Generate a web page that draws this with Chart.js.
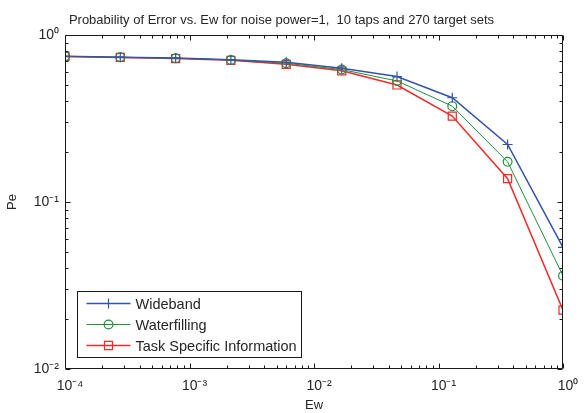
<!DOCTYPE html>
<html><head><meta charset="utf-8">
<script src="https://cdn.jsdelivr.net/npm/chart.js@4/dist/chart.umd.min.js"></script>
<style>html,body{margin:0;padding:0;background:#fff}#wrap{width:584px;height:413px;position:relative}</style>
</head><body><div id="wrap"><canvas id="c"></canvas></div>
<script>
const ew = [1e-4, 2.78e-4, 7.74e-4, 2.15e-3, 5.99e-3, 1.67e-2, 4.64e-2, 1.29e-1, 3.59e-1, 1];
const wideband     = [0.745, 0.737, 0.727, 0.712, 0.686, 0.632, 0.564, 0.421, 0.221, 0.0535];
const waterfilling = [0.745, 0.736, 0.726, 0.709, 0.677, 0.621, 0.531, 0.375, 0.174, 0.0362];
const taskSpecific = [0.744, 0.734, 0.723, 0.705, 0.667, 0.610, 0.502, 0.327, 0.138, 0.0225];
const seriesNames = ['Wideband', 'Waterfilling', 'Task Specific Information'];
const xDecades = [1e-4, 1e-3, 1e-2, 1e-1, 1];
const xDecadeLabels = ['10\u207B\u2074', '10\u207B\u00B3', '10\u207B\u00B2', '10\u207B\u00B9', '10\u2070'];
const yDecades = [1e-2, 1e-1, 1];
const yDecadeLabels = ['10\u207B\u00B2', '10\u207B\u00B9', '10\u2070'];
const titleText = 'Probability of Error vs. Ew for noise power=1,  10 taps and 270 target sets';

const FONT = '"Liberation Sans", Arial, sans-serif';
const TXT = '#262626';
const colors = ['#3554a8', '#1f8f3f', '#ee2a2a'];
const styles = ['cross', 'circle', 'rect'];
const radii = [5, 4.4, 5.7];
const widths = [1.5, 1, 1.5];

function logTicks(decs){
  const out = [];
  for (let i = 0; i < decs.length; i++) {
    const d = decs[i];
    out.push(d);
    if (i < decs.length - 1) for (let k = 2; k <= 9; k++) out.push(+(k * d).toPrecision(3));
  }
  return out;
}
function isDecade(v, decs){ return decs.some(d => Math.abs(v / d - 1) < 1e-6); }
function decadeLabel(v, decs, labels){
  const i = decs.findIndex(d => Math.abs(v / d - 1) < 1e-6);
  return i >= 0 ? labels[i] : '';
}

const allSeries = [wideband, waterfilling, taskSpecific];
const datasets = allSeries.map((s, i) => ({
  label: seriesNames[i],
  data: ew.map((x, j) => ({x: x, y: s[j]})),
  showLine: true,
  borderColor: colors[i],
  backgroundColor: 'rgba(0,0,0,0)',
  borderWidth: widths[i],
  pointStyle: styles[i],
  pointRadius: radii[i],
  pointHoverRadius: radii[i],
  pointBorderColor: colors[i],
  pointBorderWidth: 1.2,
  pointBackgroundColor: 'rgba(0,0,0,0)',
  tension: 0
}));

const framePlugin = {
  id: 'frame',
  afterDatasetsDraw(chart){
    const {ctx, chartArea: a, scales: {x, y}} = chart;
    ctx.save();
    ctx.strokeStyle = '#1a1a1a';
    ctx.lineWidth = 1;
    const L = Math.round(a.left) + 0.5, R = Math.round(a.right) - 0.5;
    const T = Math.round(a.top) + 0.5, B = Math.round(a.bottom) - 0.5;
    ctx.beginPath();
    ctx.rect(L, T, R - L, B - T);
    x.ticks.forEach(t => {
      const px = Math.round(x.getPixelForValue(t.value)) + 0.5;
      const len = isDecade(t.value, xDecades) ? 5 : 3;
      ctx.moveTo(px, B); ctx.lineTo(px, B - len);
      ctx.moveTo(px, T); ctx.lineTo(px, T + len);
    });
    y.ticks.forEach(t => {
      const py = Math.round(y.getPixelForValue(t.value)) + 0.5;
      const len = isDecade(t.value, yDecades) ? 5 : 3;
      ctx.moveTo(L, py); ctx.lineTo(L + len, py);
      ctx.moveTo(R, py); ctx.lineTo(R - len, py);
    });
    ctx.stroke();
    ctx.restore();
  }
};

function drawMarker(ctx, style, cx, cy, r){
  ctx.beginPath();
  if (style === 'cross') {
    ctx.moveTo(cx - r, cy); ctx.lineTo(cx + r, cy);
    ctx.moveTo(cx, cy - r); ctx.lineTo(cx, cy + r);
  } else if (style === 'circle') {
    ctx.arc(cx, cy, r, 0, Math.PI * 2);
  } else {
    const s = r * Math.SQRT1_2;
    ctx.rect(cx - s, cy - s, 2 * s, 2 * s);
  }
  ctx.stroke();
}

const legendPlugin = {
  id: 'matlabLegend',
  afterDraw(chart){
    const ctx = chart.ctx;
    const bx = 77.5, by = 291.5, bw = 224, bh = 66;
    ctx.save();
    ctx.fillStyle = '#fff';
    ctx.fillRect(bx, by, bw, bh);
    ctx.strokeStyle = '#1a1a1a';
    ctx.lineWidth = 1;
    ctx.strokeRect(bx, by, bw, bh);
    ctx.font = '14.5px ' + FONT;
    ctx.textBaseline = 'middle';
    ctx.fillStyle = TXT;
    chart.data.datasets.forEach((ds, i) => {
      const cy = 303.5 + i * 21;
      ctx.strokeStyle = ds.borderColor;
      ctx.lineWidth = ds.borderWidth;
      ctx.beginPath();
      ctx.moveTo(bx + 9, cy); ctx.lineTo(bx + 53, cy);
      ctx.stroke();
      ctx.lineWidth = 1.2;
      drawMarker(ctx, ds.pointStyle, bx + 31, cy, ds.pointRadius);
      ctx.fillText(ds.label, bx + 58, cy + 1);
    });
    ctx.restore();
  }
};

new Chart(document.getElementById('c'), {
  type: 'scatter',
  data: {datasets: datasets},
  options: {
    responsive: true,
    maintainAspectRatio: false,
    animation: false,
    events: [],
    layout: {padding: {left: 0, right: 21, top: 0, bottom: 0}},
    plugins: {
      legend: {display: false},
      tooltip: {enabled: false},
      title: {
        display: true,
        text: titleText,
        color: TXT,
        font: {family: FONT, size: 13, weight: 'normal'},
        padding: {top: 12.5, bottom: 6.9}
      }
    },
    scales: {
      x: {
        type: 'logarithmic',
        min: 1e-4, max: 1,
        afterBuildTicks: s => { s.ticks = logTicks(xDecades).map(v => ({value: v})); },
        afterFit: s => { s.height = 44; },
        grid: {display: false, drawTicks: false},
        border: {display: false},
        ticks: {
          autoSkip: false, maxRotation: 0, padding: 9, labelOffset: 5,
          color: TXT, font: {family: FONT, size: 14},
          callback: v => decadeLabel(v, xDecades, xDecadeLabels)
        },
        title: {display: true, text: 'Ew', color: TXT, font: {family: FONT, size: 13}, padding: {top: 0, bottom: 0}}
      },
      y: {
        type: 'logarithmic',
        min: 1e-2, max: 1,
        afterBuildTicks: s => { s.ticks = logTicks(yDecades).map(v => ({value: v})); },
        afterFit: s => { s.width = 65; },
        grid: {display: false, drawTicks: false},
        border: {display: false},
        ticks: {
          autoSkip: false, padding: 6,
          color: TXT, font: {family: FONT, size: 14},
          callback: v => decadeLabel(v, yDecades, yDecadeLabels)
        },
        title: {display: true, text: 'Pe', color: TXT, font: {family: FONT, size: 13}, padding: {top: 5, bottom: 0}}
      }
    }
  },
  plugins: [framePlugin, legendPlugin]
});
</script>
</body></html>
